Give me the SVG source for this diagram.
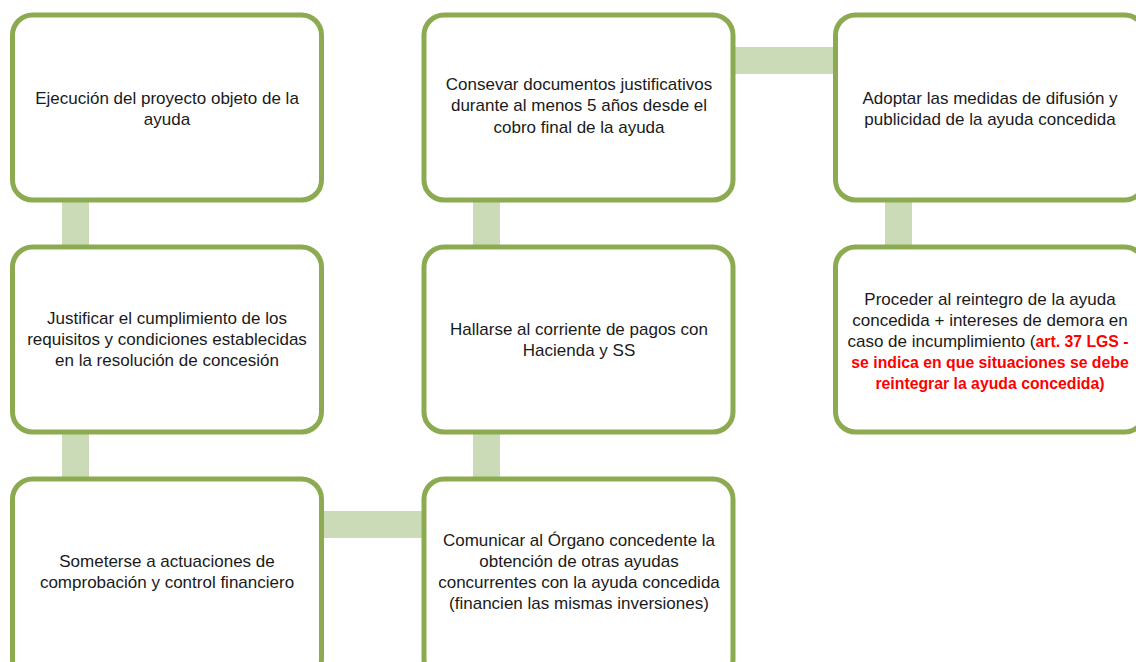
<svg xmlns="http://www.w3.org/2000/svg" width="1136" height="662" viewBox="0 0 1136 662">
<style>
.box{fill:#fff;stroke:#8cab50;stroke-width:5}
.con{fill:#cbdbb7}
.t{font-family:"Liberation Sans",Arial,sans-serif;font-size:17px;fill:#1a1a1a;text-anchor:middle}
.r{fill:#ff0000;font-weight:bold;font-size:15.8px}
</style>
<rect width="1136" height="662" fill="#fff"/>
<g id="connectors">
<rect class="con" x="62" y="200" width="27" height="48"/>
<rect class="con" x="62" y="432" width="27" height="48"/>
<rect class="con" x="473" y="200" width="27" height="48"/>
<rect class="con" x="473" y="432" width="27" height="48"/>
<rect class="con" x="885" y="200" width="27" height="48"/>
<rect class="con" x="733" y="47" width="103" height="27"/>
<rect class="con" x="321" y="511" width="104" height="27"/>
</g>
<g id="n1"><rect class="box" x="12.5" y="15" width="309" height="185" rx="20"/>
<text class="t" x="167" y="104">Ejecución del proyecto objeto de la</text><text class="t" x="167" y="125">ayuda</text></g>
<g id="n2"><rect class="box" x="12.5" y="247" width="309" height="185" rx="20"/>
<text class="t" x="167" y="324">Justificar el cumplimiento de los</text><text class="t" x="167" y="345">requisitos y condiciones establecidas</text><text class="t" x="167" y="366">en la resolución de concesión</text></g>
<g id="n3"><rect class="box" x="12.5" y="479" width="309" height="200" rx="20"/>
<text class="t" x="167" y="567">Someterse a actuaciones de</text><text class="t" x="167" y="588">comprobación y control financiero</text></g>
<g id="n4"><rect class="box" x="424" y="15" width="309" height="185" rx="20"/>
<text class="t" x="579" y="90">Consevar documentos justificativos</text><text class="t" x="579" y="111">durante al menos 5 años desde el</text><text class="t" x="579" y="133">cobro final de la ayuda</text></g>
<g id="n5"><rect class="box" x="424" y="247" width="309" height="185" rx="20"/>
<text class="t" x="579" y="335">Hallarse al corriente de pagos con</text><text class="t" x="579" y="356">Hacienda y SS</text></g>
<g id="n6"><rect class="box" x="424" y="479" width="309" height="200" rx="20"/>
<text class="t" x="579" y="546">Comunicar al Órgano concedente la</text><text class="t" x="579" y="567">obtención de otras ayudas</text><text class="t" x="579" y="588">concurrentes con la ayuda concedida</text><text class="t" x="579" y="609">(financien las mismas inversiones)</text></g>
<g id="n7"><rect class="box" x="835.5" y="15" width="309" height="185" rx="20"/>
<text class="t" x="990" y="104">Adoptar las medidas de difusión y</text><text class="t" x="990" y="125">publicidad de la ayuda concedida</text></g>
<g id="n8"><rect class="box" x="835.5" y="247" width="309" height="185" rx="20"/>
<text class="t" x="990" y="305">Proceder al reintegro de la ayuda</text><text class="t" x="990" y="326">concedida + intereses de demora en</text><text class="t" x="988" y="347">caso de incumplimiento (<tspan class="r">art. 37 LGS -</tspan></text><text class="t r" x="990" y="368">se indica en que situaciones se debe</text><text class="t r" x="990" y="389">reintegrar la ayuda concedida)</text></g>
</svg>
